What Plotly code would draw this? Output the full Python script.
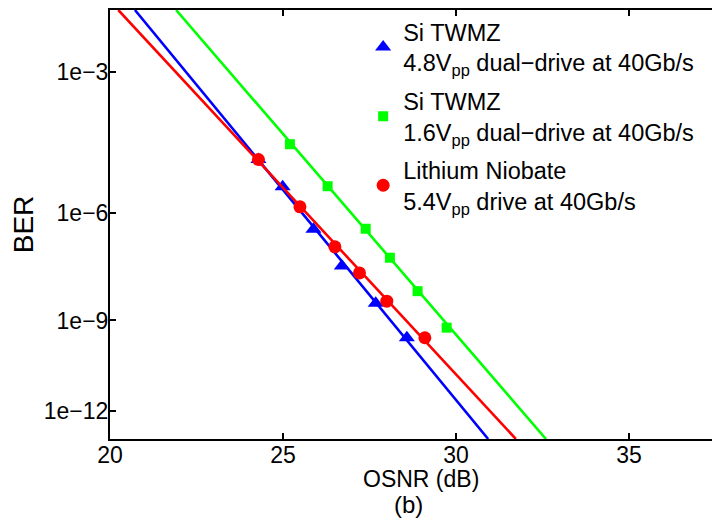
import numpy as np
import plotly.graph_objects as go

# ---- data ----
blue_osnr = [24.29, 24.99, 25.88, 26.70, 27.68, 28.58]
blue_ber = [1.8e-5, 4.3e-6, 3.8e-7, 3.9e-8, 3.3e-9, 2.9e-10]
green_osnr = [25.20, 26.29, 27.39, 28.09, 28.89, 29.73]
green_ber = [3.9e-5, 4.4e-6, 3.9e-7, 6.6e-8, 7.5e-9, 6.0e-10]
red_osnr = [24.29, 25.49, 26.50, 27.21, 28.00, 29.10]
red_ber = [1.8e-5, 1.4e-6, 1.3e-7, 2.5e-8, 3.8e-9, 2.9e-10]

# fitted lines (end points)
blue_fit_osnr = [20.72, 30.93]
green_fit_osnr = [21.91, 32.60]
red_fit_osnr = [20.24, 31.73]
fit_ber = [1e-2, 1e-13]

tick_ber = [1e-3, 1e-6, 1e-9, 1e-12]
tick_text = ["1e\u22123", "1e\u22126", "1e\u22129", "1e\u221212"]
x_ticks = [20, 25, 30, 35]

names = [
    "Si TWMZ<br>4.8V<sub>pp</sub> dual\u2212drive at 40Gb/s",
    "Si TWMZ<br>1.6V<sub>pp</sub> dual\u2212drive at 40Gb/s",
    "Lithium Niobate<br>5.4V<sub>pp</sub> drive at 40Gb/s",
]


def q(b):
    # BER axis scale: sqrt(-log10(BER)), drawn reversed
    return np.sqrt(-np.log10(np.asarray(b, dtype=float)))


BLUE, GREEN, RED = "#0000FF", "#00FF00", "#FF0000"
FONT = "Liberation Sans, Arial, Helvetica, sans-serif"

fig = go.Figure()
series = [
    (blue_osnr, blue_ber, blue_fit_osnr, BLUE, "triangle-up", 14, names[0], "b"),
    (green_osnr, green_ber, green_fit_osnr, GREEN, "square", 10, names[1], "g"),
    (red_osnr, red_ber, red_fit_osnr, RED, "circle", 13, names[2], "r"),
]
for xo, yb, xf, col, sym, sz, nm, grp in series:
    fig.add_trace(go.Scatter(x=xf, y=q(fit_ber), mode="lines",
                             line=dict(color=col, width=2.6),
                             showlegend=False, hoverinfo="skip",
                             legendgroup=grp))
    fig.add_trace(go.Scatter(x=xo, y=q(yb), mode="markers",
                             marker=dict(color=col, symbol=sym, size=sz,
                                         line=dict(width=0)),
                             name=nm, legendgroup=grp))

# page body has an 8px margin: figure is 712x517 placed at (8, 8)
fig.update_layout(
    width=712, height=517,
    margin=dict(l=102, r=0, t=2, b=86, autoexpand=False),
    paper_bgcolor="white", plot_bgcolor="white",
    font=dict(family=FONT, size=23, color="black"),
    showlegend=True,
    legend=dict(x=0.415, y=1.0, xanchor="left", yanchor="top",
                bgcolor="rgba(0,0,0,0)", borderwidth=0,
                font=dict(size=23.5), tracegroupgap=5),
)
fig.update_xaxes(
    range=[20, 37.63], tickmode="array", tickvals=x_ticks,
    ticks="inside", ticklen=6, tickwidth=1.5, tickcolor="black",
    showline=True, linecolor="black", linewidth=2, mirror="ticks",
    showgrid=False, zeroline=False, ticklabelstandoff=-6,
)
fig.update_yaxes(
    range=[float(q(1e-13)), float(q(1e-2))], tickmode="array",
    tickvals=list(q(tick_ber)), ticktext=tick_text,
    ticks="inside", ticklen=6, tickwidth=1.5, tickcolor="black",
    showline=True, linecolor="black", linewidth=2, mirror=False,
    showgrid=False, zeroline=False, ticklabelstandoff=-5,
    title=dict(text="BER", standoff=8),
)
fig.add_annotation(text="OSNR (dB)", xref="paper", yref="paper",
                   x=0.51, y=-0.0935, xanchor="center", yanchor="middle",
                   showarrow=False, font=dict(size=23))
fig.add_annotation(text="(b)", xref="paper", yref="paper",
                   x=0.489, y=-0.153, xanchor="center", yanchor="middle",
                   showarrow=False, font=dict(size=24))

fig.write_html("out.html")
